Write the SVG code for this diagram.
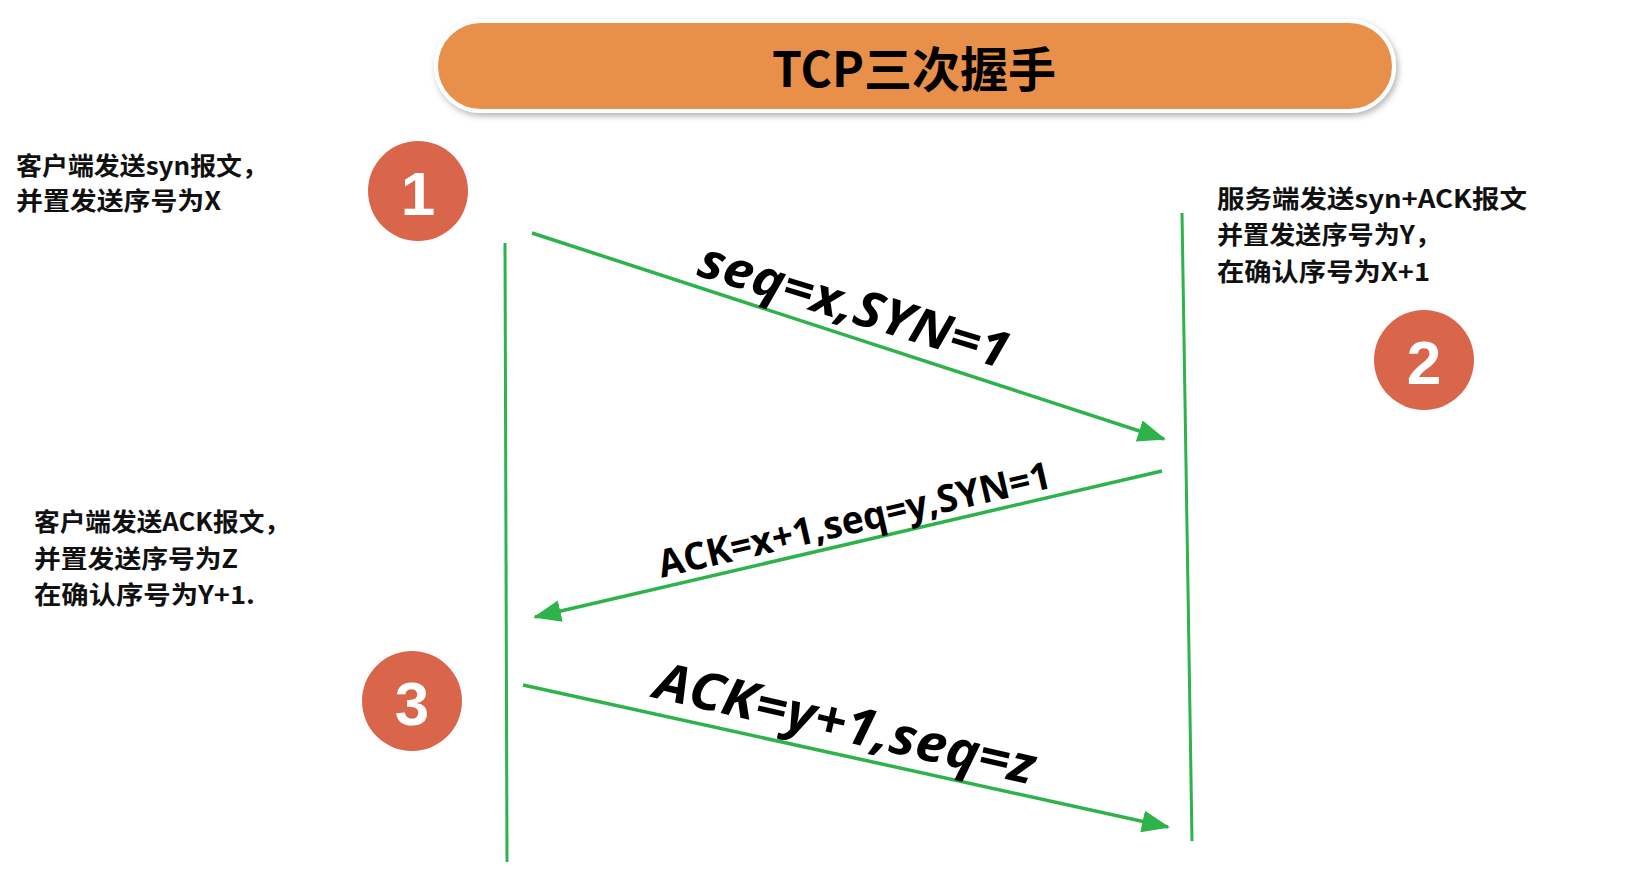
<svg xmlns="http://www.w3.org/2000/svg" width="1645" height="885" viewBox="0 0 1645 885">
<style>
.note{font-family:"Noto Sans CJK SC","Noto Sans",sans-serif;font-size:25px;font-weight:bold;fill:#111}
.num{font-family:"Liberation Sans",Arial,sans-serif;font-size:62px;font-weight:bold;fill:#fff;text-anchor:middle;dominant-baseline:central}
.step{fill:#D9654A}
.life{stroke:#2DB34A;stroke-width:3;fill:none}
.msg{stroke:#2DB34A;stroke-width:3.5;fill:none;marker-end:url(#ah)}
.lbl{font-family:"Open Sans","Noto Sans",sans-serif;font-weight:bold;fill:#000;text-anchor:middle;dominant-baseline:central}
</style>
<defs>
<marker id="ah" markerUnits="userSpaceOnUse" markerWidth="30" markerHeight="24" refX="26" refY="11" orient="auto">
<path d="M0,0 L28,11 L0,22 Z" fill="#2DB34A"/>
</marker>
<filter id="sh" x="-5%" y="-30%" width="110%" height="160%">
<feDropShadow dx="2" dy="3" stdDeviation="3" flood-color="#000" flood-opacity="0.3"/>
</filter>
</defs>
<rect width="1645" height="885" fill="#fff"/>
<g id="title">
<rect x="436" y="21" width="958" height="90" rx="45" fill="#E8904A" stroke="#fff" stroke-width="4" filter="url(#sh)"/>
<text x="914" y="66" font-family="'Noto Sans CJK SC','Noto Sans',sans-serif" font-size="48" font-weight="bold" text-anchor="middle" dominant-baseline="central" fill="#000">TCP三次握手</text>
</g>
<g id="lifelines">
<line class="life" x1="505" y1="243" x2="507" y2="862"/>
<line class="life" x1="1182" y1="213" x2="1192" y2="841"/>
</g>
<g id="connectors">
<line class="msg" x1="532" y1="233" x2="1164" y2="439"/>
<line class="msg" x1="1162" y1="471" x2="535" y2="617"/>
<line class="msg" x1="523" y1="685" x2="1168" y2="827"/>
</g>
<g id="labels">
<text class="lbl" font-size="50" font-style="italic" transform="translate(855 304) rotate(17)" textLength="322" lengthAdjust="spacingAndGlyphs">seq=x,SYN=1</text>
<text class="lbl" font-size="38" transform="translate(854 518) rotate(-13)" textLength="402" lengthAdjust="spacingAndGlyphs">ACK=x+1,seq=y,SYN=1</text>
<text class="lbl" font-size="52" font-style="italic" transform="translate(846 721) rotate(13)" textLength="388" lengthAdjust="spacingAndGlyphs">ACK=y+1,seq=z</text>
</g>
<g id="step1">
<circle class="step" cx="418" cy="191" r="50"/>
<text class="num" x="418" y="193">1</text>
</g>
<g id="step2">
<circle class="step" cx="1424" cy="360" r="50"/>
<text class="num" x="1424" y="362">2</text>
</g>
<g id="step3">
<circle class="step" cx="412" cy="701" r="50"/>
<text class="num" x="412" y="703">3</text>
</g>
<g id="note1">
<text class="note" x="16" y="175" textLength="252" lengthAdjust="spacingAndGlyphs">客户端发送syn报文，</text>
<text class="note" x="16" y="210" textLength="205" lengthAdjust="spacingAndGlyphs">并置发送序号为X</text>
</g>
<g id="note2">
<text class="note" x="1217" y="208" textLength="310" lengthAdjust="spacingAndGlyphs">服务端发送syn+ACK报文</text>
<text class="note" x="1217" y="244" textLength="224" lengthAdjust="spacingAndGlyphs">并置发送序号为Y，</text>
<text class="note" x="1217" y="281" textLength="213" lengthAdjust="spacingAndGlyphs">在确认序号为X+1</text>
</g>
<g id="note3">
<text class="note" x="34" y="531" textLength="256" lengthAdjust="spacingAndGlyphs">客户端发送ACK报文，</text>
<text class="note" x="34" y="568" textLength="204" lengthAdjust="spacingAndGlyphs">并置发送序号为Z</text>
<text class="note" x="34" y="604" textLength="221" lengthAdjust="spacingAndGlyphs">在确认序号为Y+1.</text>
</g>
</svg>
